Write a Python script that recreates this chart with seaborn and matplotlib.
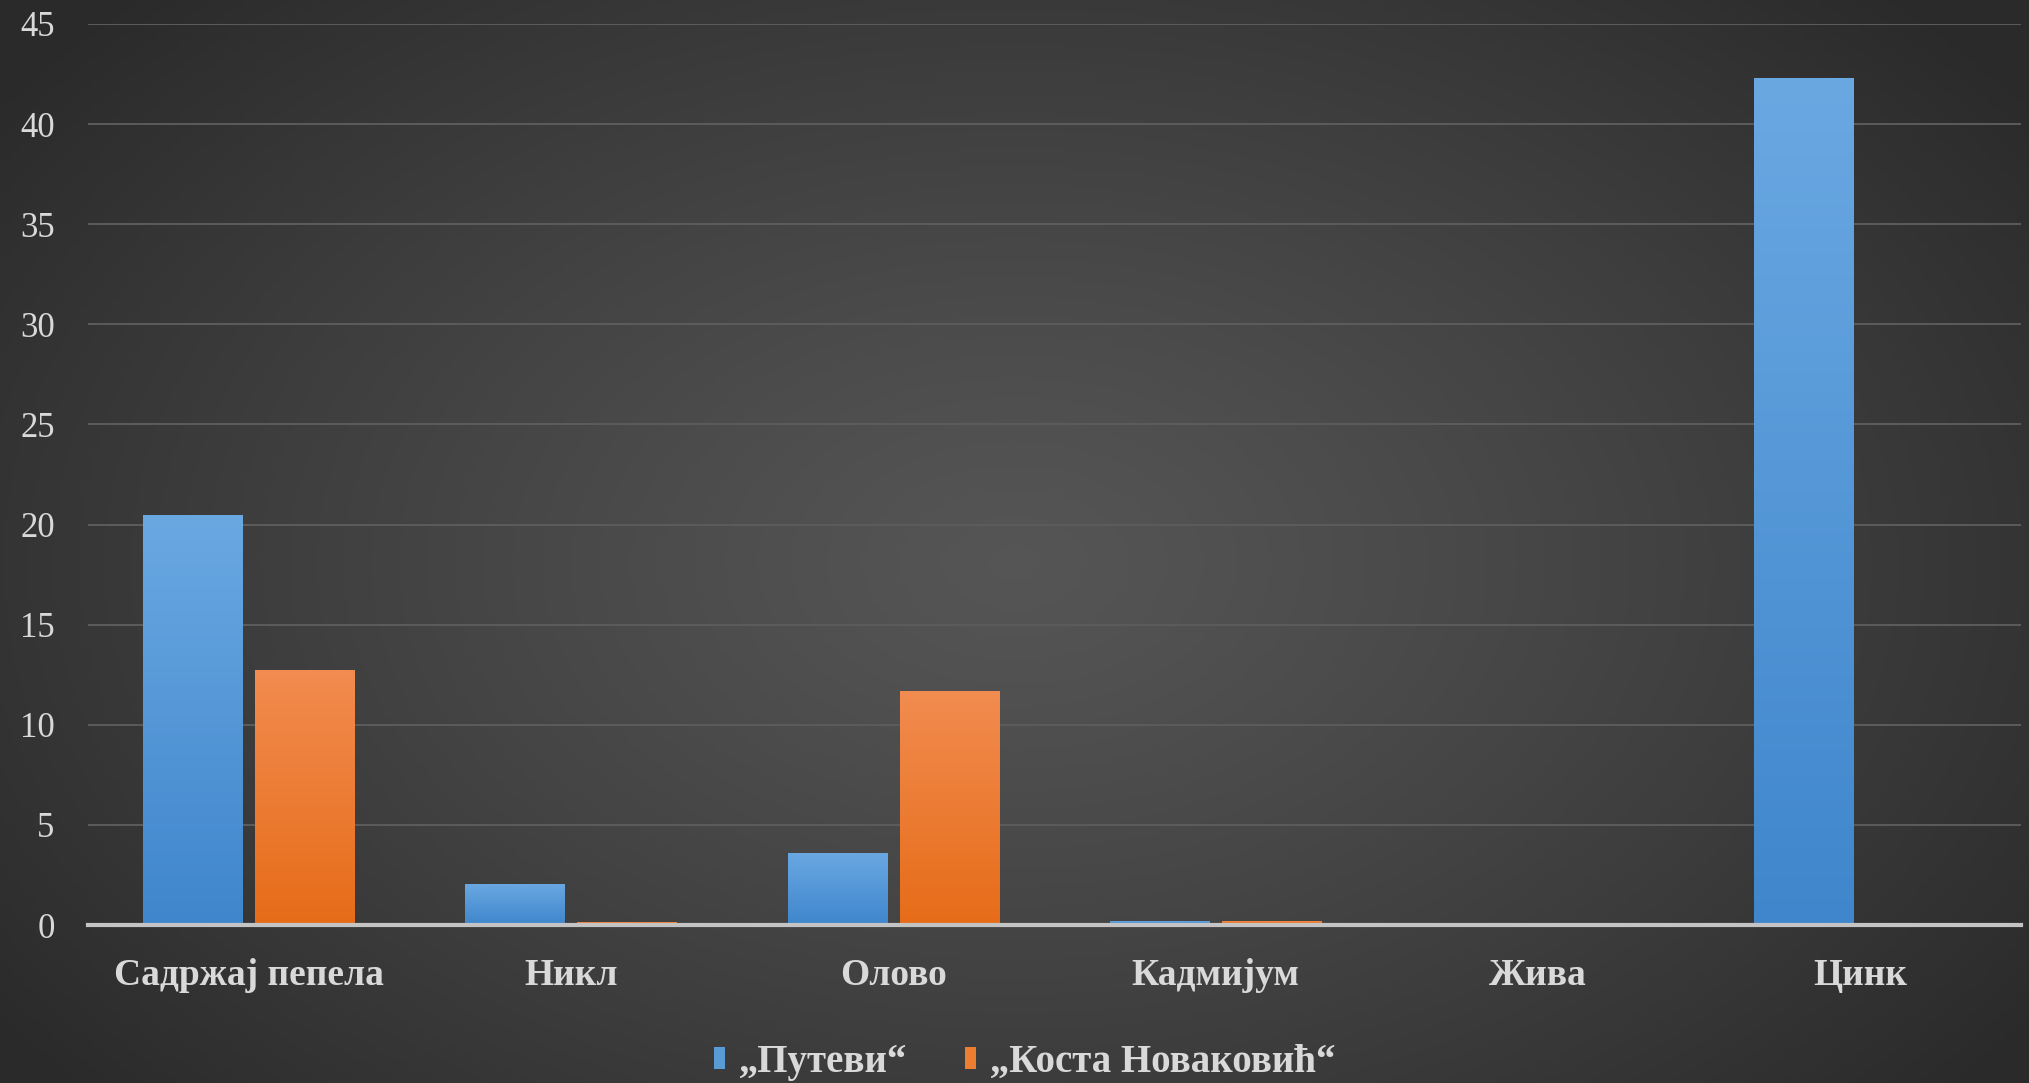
import numpy as np
import pandas as pd
import matplotlib
matplotlib.use("Agg")
import matplotlib.pyplot as plt
import seaborn as sns
from matplotlib.patches import Patch
from matplotlib.colors import LinearSegmentedColormap

categories = ["Садржај пепела", "Никл", "Олово", "Кадмијум", "Жива", "Цинк"]
series_names = ["„Путеви“", "„Коста Новаковић“"]
putevi = [20.5, 2.05, 3.6, 0.2, 0.05, 42.3]
kosta = [12.75, 0.15, 11.7, 0.2, 0.05, 0.0]
y_ticks = [0, 5, 10, 15, 20, 25, 30, 35, 40, 45]

df = pd.DataFrame({
    "category": categories * 2,
    "value": putevi + kosta,
    "series": [series_names[0]] * len(categories) + [series_names[1]] * len(categories),
})

sns.set_theme(style="dark")
plt.rcParams["font.family"] = ["Liberation Serif", "DejaVu Serif"]

W, H = 2029, 1083
fig = plt.figure(figsize=(W / 100, H / 100), dpi=100)

# radial background gradient
bg = fig.add_axes([0, 0, 1, 1], zorder=-10)
yy, xx = np.mgrid[0:1:300j, 0:1:560j]
r = np.sqrt(((xx - 0.5) / 0.62) ** 2 + ((yy - 0.48) / 0.75) ** 2)
val = 0.335 - 0.17 * np.clip(r, 0, 1) ** 1.2
bg.imshow(np.dstack([val, val, val]), extent=[0, 1, 0, 1], aspect="auto", origin="lower")
bg.set_axis_off()

ax = fig.add_axes([88 / W, 1 - 925 / H, (2021 - 88) / W, (925 - 24) / H])
ax.patch.set_alpha(0)

colors = ["#5b9bd5", "#ed7d31"]
sns.barplot(data=df, x="category", y="value", hue="series", palette=colors,
            width=0.695, gap=0.11, ax=ax, legend=False, saturation=1,
            linewidth=0, edgecolor="none", zorder=3)

# gradient overlay on bars
grads = {
    0: LinearSegmentedColormap.from_list("b", ["#3f86cc", "#6aa8e2"]),
    1: LinearSegmentedColormap.from_list("o", ["#e66c18", "#f28c50"]),
}
n = len(categories)
for i, p in enumerate(ax.patches):
    x0, y0 = p.get_x(), p.get_y()
    w, h = p.get_width(), p.get_height()
    if h <= 0:
        continue
    cmap = grads[0] if i < n else grads[1]
    g = np.linspace(0, 1, 256).reshape(-1, 1)
    im = ax.imshow(g, cmap=cmap, extent=[x0, x0 + w, y0, y0 + h], origin="lower",
                   aspect="auto", zorder=4)
    im.set_clip_path(p)

ax.set_xlim(-0.5, n - 0.5)
ax.set_ylim(0, 45)
ax.set_yticks(y_ticks)
ax.set_yticklabels([str(t) for t in y_ticks])
ax.grid(axis="y", color="#5c5c5c", linewidth=1.4, zorder=0)
ax.grid(axis="x", visible=False)
ax.set_axisbelow(True)
for s in ["top", "right", "left"]:
    ax.spines[s].set_visible(False)
ax.spines["bottom"].set_color("#c4c4c4")
ax.spines["bottom"].set_linewidth(3)
ax.spines["bottom"].set_zorder(6)

ax.tick_params(axis="y", colors="#d9d9d9", labelsize=25, pad=24, length=0)
ax.tick_params(axis="x", colors="#d9d9d9", labelsize=27, pad=24, length=0)
for lbl in ax.get_xticklabels():
    lbl.set_fontweight("bold")
ax.set_xlabel("")
ax.set_ylabel("")

handles = [Patch(facecolor=c, edgecolor="none") for c in colors]
leg = fig.legend(handles, series_names, loc="center", bbox_to_anchor=(0.505, 0.019),
                 ncol=2, frameon=False, handletextpad=0.35, columnspacing=1.5,
                 handlelength=0.28, handleheight=0.5,
                 prop={"family": ["Liberation Serif"], "weight": "bold", "size": 28})
for t in leg.get_texts():
    t.set_color("#d9d9d9")

fig.savefig("out.png", dpi=100)
